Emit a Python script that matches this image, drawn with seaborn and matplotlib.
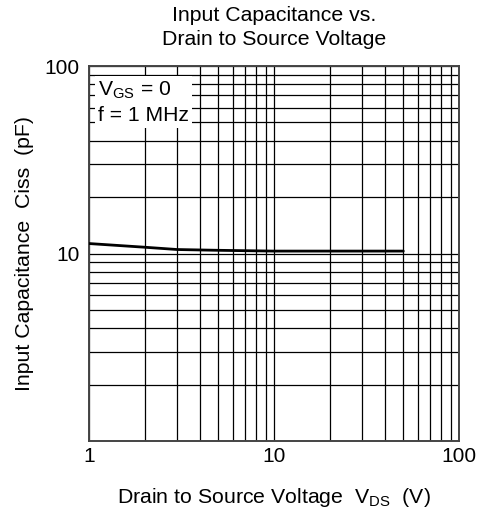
import matplotlib
matplotlib.use("Agg")
import matplotlib.pyplot as plt
import seaborn as sns
import numpy as np
import pandas as pd
from matplotlib.ticker import LogLocator, NullFormatter, FixedLocator, FixedFormatter

# Data
vds = [1, 2, 3, 5, 7, 10, 20, 30, 50]
ciss = [11.3, 10.8, 10.5, 10.4, 10.35, 10.3, 10.3, 10.3, 10.3]

x_ticks = [1, 10, 100]
x_labels = ["1", "10", "100"]
y_ticks = [10, 100]
y_labels = ["10", "100"]

sns.set_theme(style="white")
plt.rcParams['font.family'] = ['Liberation Sans', 'DejaVu Sans']
plt.rcParams['mathtext.fontset'] = 'custom'
plt.rcParams['mathtext.rm'] = 'Liberation Sans'
plt.rcParams['mathtext.it'] = 'Liberation Sans'

fig = plt.figure(figsize=(4.82, 5.13), dpi=100)
ax = fig.add_axes([89/482, 1-441/513, 370/482, 375/513])

df = pd.DataFrame({"Vds": vds, "Ciss": ciss})
sns.lineplot(data=df, x="Vds", y="Ciss", ax=ax, color="black", linewidth=2.0, zorder=5)

ax.set_xscale("log")
ax.set_yscale("log")
ax.set_xlim(1, 100)
ax.set_ylim(1, 100)

ax.xaxis.set_major_locator(FixedLocator(x_ticks))
ax.xaxis.set_major_formatter(FixedFormatter(x_labels))
ax.yaxis.set_major_locator(FixedLocator(y_ticks))
ax.yaxis.set_major_formatter(FixedFormatter(y_labels))
ax.xaxis.set_minor_locator(LogLocator(base=10, subs=np.arange(2, 10)))
ax.yaxis.set_minor_locator(LogLocator(base=10, subs=np.arange(2, 10)))
ax.xaxis.set_minor_formatter(NullFormatter())
ax.yaxis.set_minor_formatter(NullFormatter())

ax.grid(True, which="both", color="black", linewidth=0.9)
ax.tick_params(which="both", length=0, labelsize=15, colors="black")
ax.tick_params(axis="x", pad=4)
ax.tick_params(axis="y", pad=7)
for s in ax.spines.values():
    s.set_color("#444444")
    s.set_linewidth(1.4)

ax.set_xlabel("Drain to Source Voltage  V$_{\\mathrm{DS}}$  (V)", fontsize=15.3, labelpad=15, color="black")
ax.set_ylabel("Input Capacitance  Ciss  (pF)", fontsize=15.3, labelpad=7, color="black")
ax.set_title("Input Capacitance vs.\nDrain to Source Voltage", fontsize=15.3, pad=15, color="black", linespacing=1.35)

ax.text(1.12, 84, "V$_{\\mathrm{GS}}$ = 0\nf = 1 MHz", fontsize=15.2, va="top", ha="left",
        color="black", zorder=6, linespacing=1.3,
        bbox=dict(facecolor="white", edgecolor="none", pad=2.0))

fig.savefig("out.png", dpi=100)
